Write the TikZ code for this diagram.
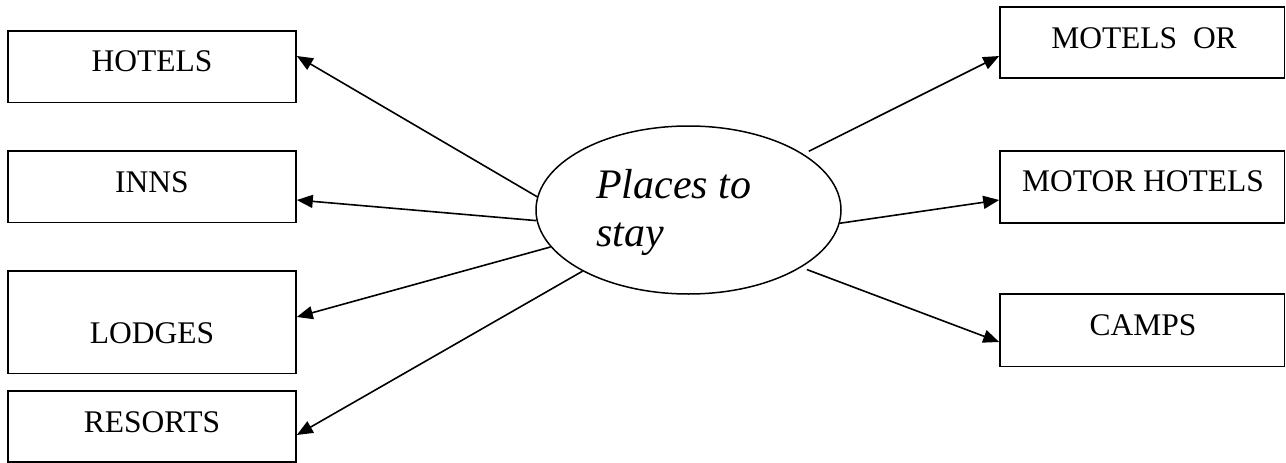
\documentclass[tikz,border=0pt]{standalone}
\usepackage{fontspec}
\setmainfont{Liberation Serif}
\usetikzlibrary{shapes.geometric,arrows.meta}
\begin{document}
\begin{tikzpicture}[x=1pt,y=-1pt,
  box/.style={draw, line width=1.6pt, inner sep=0pt, minimum width=288pt},
  rbox/.style={draw, line width=1.6pt, inner sep=0pt, minimum width=284.5pt},
  lbl/.style={anchor=base, inner sep=0pt, font=\fontsize{31.5}{36}\selectfont},
  ital/.style={anchor=base west, inner sep=0pt, font=\fontsize{42}{48}\selectfont\itshape},
  conn/.style={line width=1.6pt, -{Triangle[length=16pt,width=13pt]}}]
\useasboundingbox (0,0) rectangle (1286,463);
% center ellipse
\node[draw, ellipse, line width=1.5pt, minimum width=305pt, minimum height=168pt, inner sep=0pt] (c) at (688.5,210) {};
\node[ital] (p1) at (596,198) {Places to};
\node[ital] (p2) at (596,246) {stay};
% left boxes
\node[box, minimum height=71.6pt] (hotels) at (152,66.5) {};
\node[box, minimum height=71.6pt] (inns) at (152,186.5) {};
\node[box, minimum height=102.6pt] (lodges) at (152,322) {};
\node[box, minimum height=71pt] (resorts) at (152,426.2) {};
\node[lbl] (hotelsT) at (152,71) {HOTELS};
\node[lbl] (innsT) at (152,192) {INNS};
\node[lbl] (lodgesT) at (152,343) {LODGES};
\node[lbl] (resortsT) at (152,432) {RESORTS};
% right boxes
\node[rbox, minimum height=71pt] (motels) at (1142.25,42.5) {};
\node[rbox, minimum height=72pt] (motor) at (1142.25,186.7) {};
\node[rbox, minimum height=72.6pt] (camps) at (1142.25,330.3) {};
\node[lbl] (motelsT) at (1144,48) {MOTELS\ \ OR};
\node[lbl] (motorT) at (1143,191) {MOTOR HOTELS};
\node[lbl] (campsT) at (1143,335) {CAMPS};
% connectors
\draw[conn] (c.175.5) -- ([yshift=10.5pt]hotels.east);
\draw[conn] (c.184.9) -- ([yshift=-13.5pt]inns.east);
\draw[conn] (c.195) -- ([yshift=5pt]lodges.east);
\draw[conn] (c.210) -- ([yshift=-8.8pt]resorts.east);
\draw[conn, shorten <=6pt] (c.26.5) -- ([yshift=-13.5pt]motels.west);
\draw[conn] (c.355.5) -- ([yshift=-13.3pt]motor.west);
\draw[conn, shorten <=6pt] (c.333.1) -- ([yshift=-11.7pt]camps.west);
\end{tikzpicture}
\end{document}
